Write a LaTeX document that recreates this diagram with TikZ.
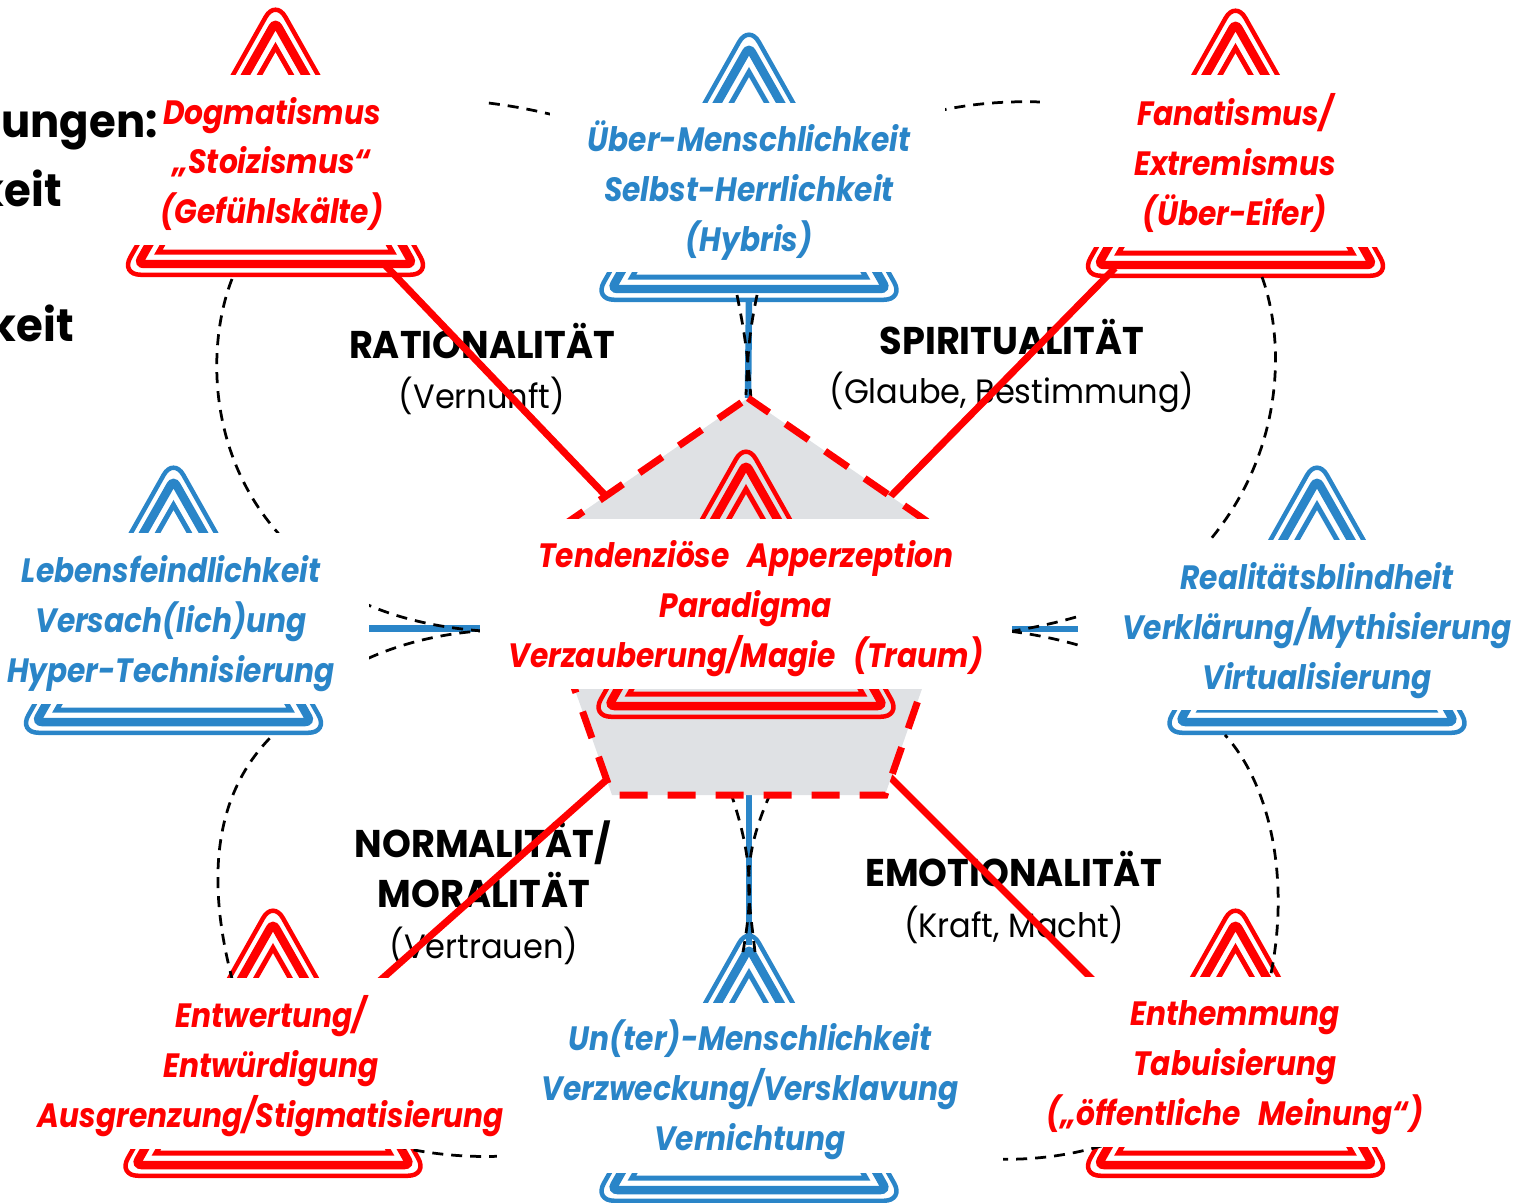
\documentclass[tikz,border=0pt]{standalone}
\usepackage{fontspec}
\setmainfont{Poppins}[FakeStretch=0.88,WordSpace=2.6]
\newfontfamily\headfont{Poppins}[FakeStretch=0.95]
\definecolor{warnblue}{HTML}{2A85C8}
\definecolor{warngray}{HTML}{DFE1E4}
\newcommand{\warnsign}[3]{
	\draw[#3,line width=0.09cm,rounded corners=0.4cm] (#1,#2-8.5) -- (#1+155,#2+266.75) -- (#1-155,#2+266.75) -- cycle;
	\draw[#3,line width=0.17cm,rounded corners=0.12cm] (#1,#2+14) -- (#1+137.5,#2+256) -- (#1-137.5,#2+256) -- cycle;
	\draw[#3,line width=0.1cm] (#1,#2+39) -- (#1+117,#2+244) -- (#1-117,#2+244) -- cycle;
}
\tikzset{
	warntext/.style={inner sep=0pt,align=center,font=\fontsize{19.2}{28.45}\selectfont\bfseries\itshape},
	headtext/.style={inner sep=0pt,align=center,font=\headfont\fontsize{22}{28.45}\selectfont\bfseries},
	subtext/.style={inner sep=0pt,align=center,font=\headfont\fontsize{19.2}{28.45}\selectfont},
	resttext/.style={inner sep=0pt,anchor=east,font=\headfont\fontsize{26}{28.45}\selectfont\bfseries},
	redline/.style={red,line width=0.14cm},
	blueline/.style={warnblue,line width=0.13cm},
	bendline/.style={black,line width=0.055cm,dash pattern=on 0.22cm off 0.16cm},
}
\begin{document}
\begin{tikzpicture}[x=0.02cm,y=-0.02cm]
	\useasboundingbox (0,0) rectangle (1519,1203);
	\clip (0,0) rectangle (1519,1203);

	% ends of the connectors
	\coordinate (penttop) at (748,398);
	\coordinate (pentleft) at (526,551);
	\coordinate (pentright) at (970,551);
	\coordinate (pentbl) at (612,795);
	\coordinate (pentbr) at (885,795);
	\coordinate (edgetl) at (605,495);
	\coordinate (edgetr) at (890,497);
	\coordinate (edgebl) at (612,775);
	\coordinate (edgebr) at (888,775);
	\coordinate (basetl) at (385,265);
	\coordinate (basetr) at (1115,268);
	\coordinate (basebl) at (375,985);
	\coordinate (basebr) at (1098,985);
	\coordinate (basetop) at (749,300);
	\coordinate (basebot) at (749,945);
	\coordinate (baseleft) at (171,628.5);
	\coordinate (baseright) at (1317,629);
	\coordinate (midleft) at (600,628.5);
	\coordinate (midright) at (900,629);
	\coordinate (pentbot) at (749,795);

	\node[headtext] (rational) at (482,341) {RATIONALITÄT};
	\node[subtext] (rationalsub) at (482,396) {(Vernunft)};
	\node[headtext] (spiritual) at (1012,337) {SPIRITUALITÄT};
	\node[subtext] (spiritualsub) at (1012,392) {(Glaube, Bestimmung)};
	\node[headtext] (normal) at (483,843) {NORMALITÄT/};
	\node[headtext] (moral) at (484,890) {MORALITÄT};
	\node[subtext] (moralsub) at (484,946) {(Vertrauen)};
	\node[headtext] (emotional) at (1014,869) {EMOTIONALITÄT};
	\node[subtext] (emotionalsub) at (1014,925) {(Kraft, Macht)};

	\draw[redline] (basetl) -- (edgetl);
	\draw[redline] (basetr) -- (edgetr);
	\draw[redline] (basebl) -- (edgebl);
	\draw[redline] (basebr) -- (edgebr);
	\draw[blueline] (basetop) -- (penttop);
	\draw[blueline] (basebot) -- (pentbot);
	\draw[blueline] (baseleft) -- (midleft);
	\draw[blueline] (baseright) -- (midright);

	\warnsign{275.5}{8}{red}
	\warnsign{749}{33}{warnblue}
	\warnsign{1235.5}{9}{red}
	\warnsign{173.5}{466}{warnblue}
	\warnsign{1317}{466}{warnblue}
	\warnsign{273}{909}{red}
	\warnsign{749}{934}{warnblue}
	\warnsign{1235.5}{909}{red}

	\draw[bendline] (232,279) .. controls (208,340) and (205,450) .. (278,533) .. controls (320,596) and (400,628) .. (500,632);
	\draw[bendline] (238,1000) .. controls (208,900) and (205,800) .. (275,733) (305,700) .. controls (340,665) and (410,632) .. (500,630);
	\draw[bendline] (1262,277) .. controls (1285,340) and (1285,450) .. (1210,540) .. controls (1170,590) and (1090,620) .. (1000,633);
	\draw[bendline] (1262,1010) .. controls (1295,900) and (1275,790) .. (1225,735) (1195,705) .. controls (1155,670) and (1090,640) .. (1000,630);
	\draw[bendline] (470,101) .. controls (620,115) and (730,180) .. (735,265) (737,295) .. controls (742,320) and (748,350) .. (751,400);
	\draw[bendline] (1060,103) .. controls (880,90) and (770,180) .. (760,265) (757,295) .. controls (752,320) and (748,340) .. (746,395);
	\draw[bendline] (395,1146) .. controls (560,1185) and (730,1110) .. (735,1005) (743,952) .. controls (752,900) and (755,860) .. (728,785);
	\draw[bendline] (1120,1140) .. controls (950,1200) and (770,1110) .. (762,1005) (755,952) .. controls (748,890) and (740,860) .. (772,790);

	\fill[warngray] (penttop) -- (pentleft) -- (pentbl) -- (pentbr) -- (pentright) -- cycle;
	\draw[red,line width=0.14cm,dash pattern=on 0.56cm off 0.4cm,dash phase=0.8cm] (penttop) -- (pentleft) -- (pentbl) -- (pentbr) -- (pentright) -- cycle;
	\warnsign{746}{450}{red}

	% white masks under the sign texts
	\fill[white] (57,75) rectangle (487,245);
	\fill[white] (550,103) rectangle (945,272);
	\fill[white] (1040,75) rectangle (1430,247);
	\fill[white] (0,533) rectangle (369,704);
	\fill[white] (480,519) rectangle (1012,689);
	\fill[white] (1078,540) rectangle (1519,710);
	\fill[white] (45,978) rectangle (497,1149);
	\fill[white] (497,1003) rectangle (1003,1173);
	\fill[white] (1003,977) rectangle (1467,1147);

	\node[warntext,text=red] (dogma) at (272,164) {Dogmatismus\\„Stoizismus“\\(Gefühlskälte)};
	\node[warntext,text=warnblue] (hybris) at (749,191) {Über-Menschlichkeit\\Selbst-Herrlichkeit\\(Hybris)};
	\node[warntext,text=red] (fanatic) at (1235,163) {Fanatismus/\\Extremismus\\(Über-Eifer)};
	\node[warntext,text=warnblue] (hostile) at (171,624) {Lebensfeindlichkeit\\Versach(lich)ung\\Hyper-Technisierung};
	\node[warntext,text=red] (paradigm) at (746,609) {Tendenziöse Apperzeption\\Paradigma\\Verzauberung/Magie (Traum)};
	\node[warntext,text=warnblue] (blind) at (1317,631) {Realitätsblindheit\\Verklärung/Mythisierung\\Virtualisierung};
	\node[warntext,text=red] (stigma) at (271,1066) {Entwertung/\\Entwürdigung\\Ausgrenzung/Stigmatisierung};
	\node[warntext,text=warnblue] (slave) at (750,1090) {Un(ter)-Menschlichkeit\\Verzweckung/Versklavung\\Vernichtung};
	\node[warntext,text=red] (taboo) at (1235,1068) {Enthemmung\\Tabuisierung\\(„öffentliche Meinung“)};

	\node[resttext] (restone) at (158,130) {ungen:};
	\node[resttext] (resttwo) at (62,188) {keit};
	\node[resttext] (restthree) at (74,323) {keit};
\end{tikzpicture}
\end{document}
